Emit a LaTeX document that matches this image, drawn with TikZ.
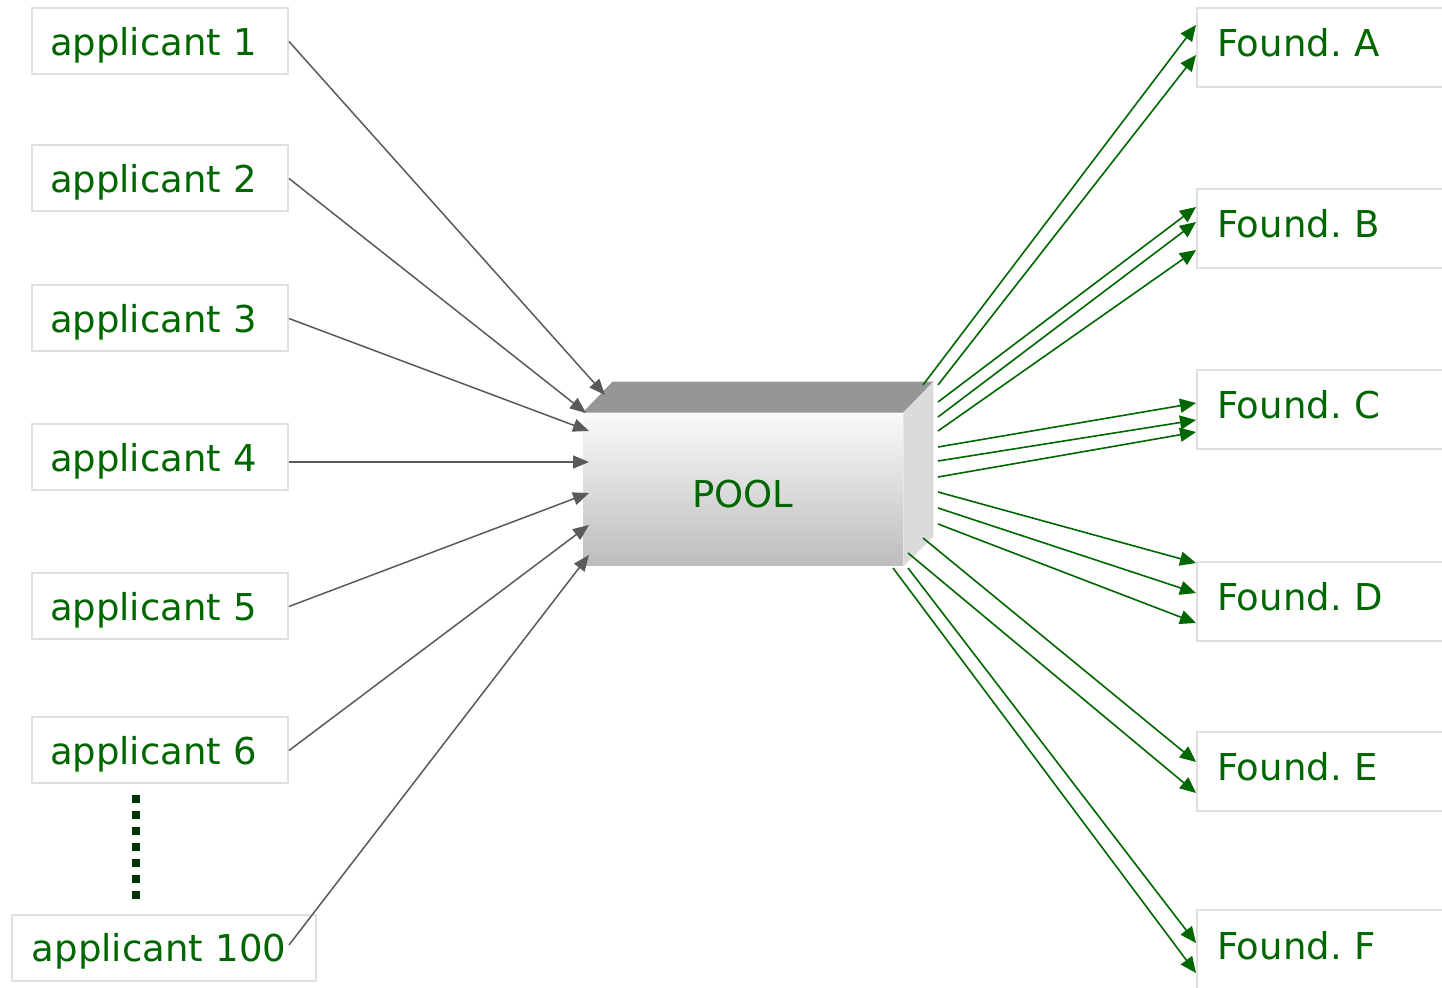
\documentclass[tikz,border=0pt]{standalone}
\usepackage{fontspec}
\setmainfont{DejaVu Sans}
\usetikzlibrary{arrows.meta,calc}

\definecolor{txtgreen}{HTML}{006600}
\definecolor{dotgreen}{HTML}{003300}
\definecolor{boxline}{HTML}{E0E0E0}
\definecolor{ingray}{HTML}{5A5A5A}

\tikzset{
  appbox/.style={draw=boxline,line width=1pt,text=txtgreen,minimum height=33pt,
    inner xsep=9pt,text width=110pt,align=left,text height=15pt,text depth=1pt},
  fndbox/.style={draw=boxline,line width=1pt,text=txtgreen,minimum height=39.5pt,
    inner xsep=10pt,text width=115pt,align=left,anchor=west,text height=13pt,text depth=3.5pt},
  poolface/.style={minimum width=160pt,minimum height=76.5pt,text=txtgreen,
    top color=white!98!black,middle color=white!93!black,bottom color=white!74!black,
    text height=19pt,text depth=0.5pt},
  inarrow/.style={draw=ingray,line width=0.75pt,-{Triangle[length=8pt,width=6.5pt]}},
  outarrow/.style={draw=txtgreen,line width=0.8pt,-{Triangle[length=8pt,width=7pt]}},
  vdots/.style={draw=dotgreen,line width=4pt,dash pattern=on 4pt off 4pt}
}

\begin{document}
\begin{tikzpicture}[x=0.5pt,y=-0.5pt,font=\fontsize{18.5}{22}\selectfont\frenchspacing]
	\useasboundingbox (0,0) rectangle (1442,988);
	
	% applicants
	\node[appbox] (a1) at (160,41.5) {applicant 1};
	\node[appbox] (a2) at (160,178.5) {applicant 2};
	\node[appbox] (a3) at (160,318.5) {applicant 3};
	\node[appbox] (a4) at (160,457.5) {applicant 4};
	\node[appbox] (a5) at (160,606.5) {applicant 5};
	\node[appbox] (a6) at (160,750.5) {applicant 6};
	\node[appbox,inner xsep=10pt,text width=132pt] (a100) at (164,948) {applicant 100};
	\draw[vdots] (136,795) -- (136,901);
	
	% foundations
	\node[fndbox] (fA) at (1196,47.5) {Found. A};
	\node[fndbox] (fB) at (1196,228.5) {Found. B};
	\node[fndbox] (fC) at (1196,409.5) {Found. C};
	\node[fndbox] (fD) at (1196,601.5) {Found. D};
	\node[fndbox] (fE) at (1196,771.5) {Found. E};
	\node[fndbox] (fF) at (1196,950) {Found. F};
	
	% the pool
	\node[poolface] (pool) at (743,489.5) {POOL};
	\fill[white!59!black] (pool.north west) -- ++(30,-31) -- ($(pool.north east)+(30,-31)$) -- (pool.north east) -- cycle;
	\fill[white!86!black] (pool.north east) -- ++(30,-31) -- ++(0,155) -- (pool.south east) -- cycle;
	
	% arrows in
	\coordinate (in1) at (605,395);
	\coordinate (in2) at (586,413);
	\foreach \n/\y in {3/431,4/462,5/493,6/525,100/555}
		\coordinate (in\n) at (589,\y);
	\foreach \n in {1,2,3,5,6}
		\draw[inarrow] (a\n.east) -- (in\n);
	\draw[inarrow] (a4.east |- in4) -- (in4);
	\draw[inarrow] ($(a100.east)+(-28,-3)$) -- (in100);
	
	% arrows out
	\foreach \i/\sx/\sy/\f/\ey in {1/923/385/A/25, 2/938/385/A/55,
		3/938/402/B/207, 4/938/417/B/222, 5/938/431/B/250,
		6/938/447/C/403, 7/938/461/C/420, 8/938/477/C/432,
		9/938/492/D/563, 10/938/508/D/593, 11/938/524/D/623,
		12/923/538/E/762, 13/908/553/E/793,
		14/908/568/F/943, 15/893/568/F/973} {
		\coordinate (out\i) at (\sx,\sy);
		\draw[outarrow] (out\i) -- (f\f.west |- 0,\ey);
	}
\end{tikzpicture}
\end{document}
